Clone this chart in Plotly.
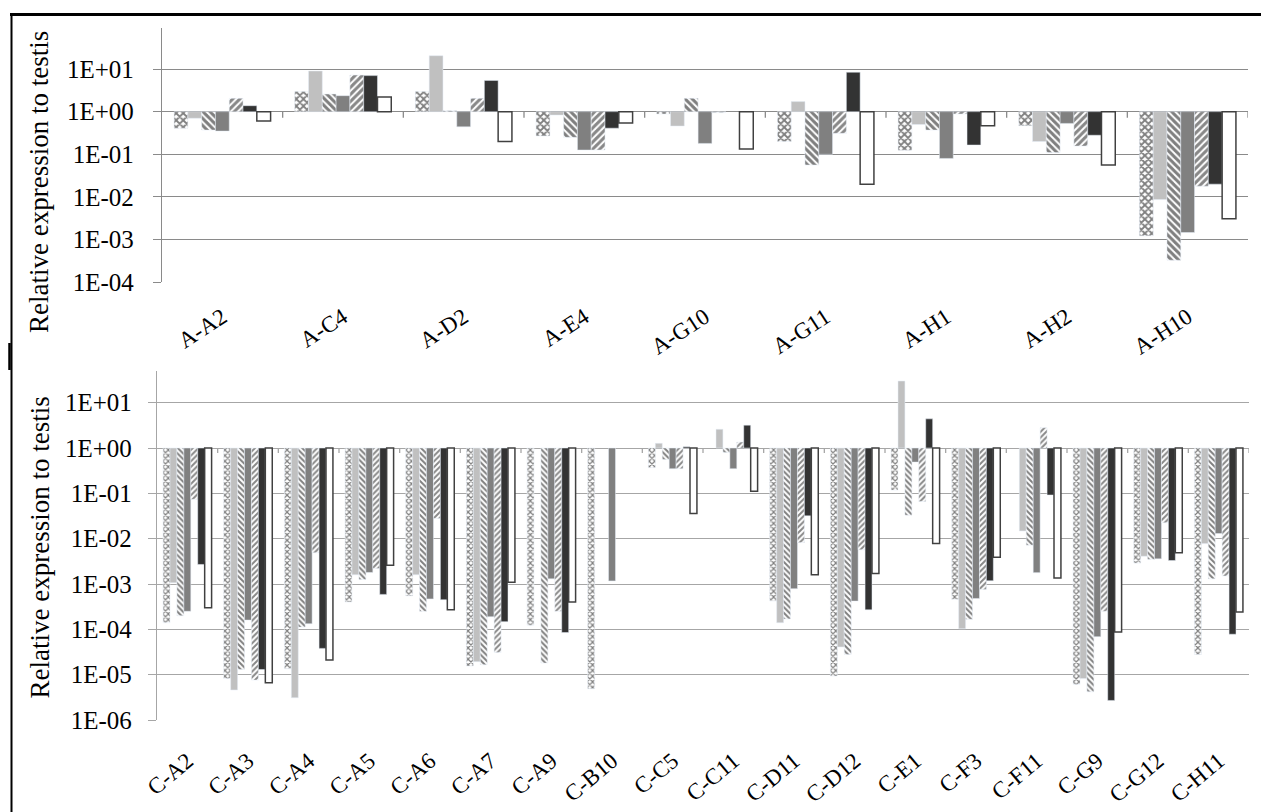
import plotly.graph_objects as go
from plotly.subplots import make_subplots

# categories
top_groups = ["A-A2", "A-C4", "A-D2", "A-E4", "A-G10", "A-G11", "A-H1", "A-H2", "A-H10"]
bottom_groups = ["C-A2", "C-A3", "C-A4", "C-A5", "C-A6", "C-A7", "C-A9", "C-B10", "C-C5",
                 "C-C11", "C-D11", "C-D12", "C-E1", "C-F3", "C-F11", "C-G9", "C-G12", "C-H11"]

# relative expression to testis, one list per series
top_s1 = [0.41, 2.95, 2.95, 0.27, 0.88, 0.20, 0.125, 0.47, 0.00123]
top_s2 = [0.70, 8.97, 20.5, 0.83, 0.46, 1.72, 0.50, 0.20, 0.0087]
top_s3 = [0.37, 2.59, 1.05, 0.25, 2.05, 0.056, 0.37, 0.11, 0.00033]
top_s4 = [0.35, 2.37, 0.44, 0.126, 0.18, 0.10, 0.080, 0.53, 0.00147]
top_s5 = [2.05, 7.2, 2.05, 0.126, 0.95, 0.31, 0.88, 0.156, 0.0179]
top_s6 = [1.38, 7.0, 5.4, 0.41, None, 8.4, 0.165, 0.28, 0.020]
top_s7 = [0.60, 2.2, 0.20, 0.54, 0.133, 0.020, 0.47, 0.056, 0.0031]

bot_s1 = [1.4e-4, 8.2e-6, 1.35e-5, 4.0e-4, 5.5e-4, 1.55e-5, 1.23e-4, 4.9e-6, 0.37,
          None, 4.2e-4, 9.3e-6, 0.118, 4.6e-4, None, 6.1e-6, 2.9e-3, 2.8e-5]
bot_s2 = [1.07e-3, 4.6e-6, 3.1e-6, 1.6e-3, 1.6e-3, 1.94e-5, None, None, 1.27,
          2.6, 1.4e-4, 4.1e-5, 30, 1.03e-4, 0.0148, 8.2e-6, 4.1e-3, 7.8e-3]
bot_s3 = [2.0e-4, 1.3e-5, 1.12e-4, 1.26e-3, 2.5e-4, 1.66e-5, 1.8e-5, None, 0.56,
          0.8, 1.7e-4, 2.8e-5, 0.033, 1.66e-4, 7.2e-3, 4.2e-6, 3.5e-3, 1.3e-3]
bot_s4 = [2.5e-4, 1.6e-4, 1.33e-4, 1.8e-3, 4.7e-4, 1.9e-4, 1.3e-3, 1.17e-3, 0.35,
          0.35, 7.9e-4, 4.2e-4, 0.49, 4.8e-4, 1.78e-3, 6.9e-5, 3.6e-3, 0.013]
bot_s5 = [0.074, 7.6e-6, 4.9e-3, 2.2e-3, 0.028, 3.1e-5, 2.5e-4, None, 0.35,
          1.35, 8.2e-3, 5.7e-3, 0.066, 7.6e-4, 2.8, 2.5e-4, 0.0225, 1.5e-3]
bot_s6 = [2.7e-3, 1.3e-5, 3.8e-5, 5.9e-4, 4.5e-4, 1.48e-4, 8.5e-5, None, 1.07,
          3.2, 0.032, 2.7e-4, 4.4, 1.18e-3, 0.092, 2.7e-6, 3.3e-3, 7.8e-5]
bot_s7 = [3.0e-4, 6.6e-6, 2.1e-5, 2.6e-3, 2.7e-4, 1.1e-3, 4.0e-4, None, 0.036,
          0.112, 1.6e-3, 1.7e-3, 7.8e-3, 3.9e-3, 1.35e-3, 8.7e-5, 4.9e-3, 2.4e-4]

top_exps = [-4, -3, -2, -1, 0, 1]
bot_exps = [-6, -5, -4, -3, -2, -1, 0, 1]

# the page body keeps its default 8px margin, so the figure is drawn 8px in from the corner
OFF = 8
W, H = 1269 - OFF, 812 - OFF
FONT = "Liberation Serif, Times New Roman, serif"
GRID = "#8a8a8a"
GRID2 = "#a6a6a6"


def bar_styles(size, solid):
    # same order in both panels: checker, light grey, back hatch, mid grey, fwd hatch, dark, open
    return [
        dict(color="white", pattern=dict(shape="x", fgcolor="#000", bgcolor="white", size=size, solidity=solid)),
        dict(color="#c0c0c0"),
        dict(color="white", pattern=dict(shape="\\", fgcolor="#000", bgcolor="white", size=size, solidity=solid)),
        dict(color="#808080"),
        dict(color="white", pattern=dict(shape="/", fgcolor="#111", bgcolor="white", size=size, solidity=solid)),
        dict(color="#333333"),
        dict(color="white", line=dict(color="#404040", width=1.5)),
    ]


def px_x(p):
    # screen pixel of the reference -> paper fraction
    return (p - OFF) / W


def px_y(p):
    return 1 - (p - OFF) / H


def etxt(e):
    return "1E%s%02d" % ("+" if e >= 0 else "-", abs(e))


fig = make_subplots(rows=2, cols=1)

panels = [
    (1, top_groups, [top_s1, top_s2, top_s3, top_s4, top_s5, top_s6, top_s7], bar_styles(5, 0.6)),
    (2, bottom_groups, [bot_s1, bot_s2, bot_s3, bot_s4, bot_s5, bot_s6, bot_s7], bar_styles(4, 0.5)),
]
for row, groups, series, styles in panels:
    for i, vals in enumerate(series):
        # bars hang from 1E+00, so length is value - 1 from a base of 1
        ys = [None if v is None else v - 1 for v in vals]
        fig.add_trace(go.Bar(x=groups, y=ys, base=1, name="Series %d" % (i + 1),
                             marker=styles[i], showlegend=False,
                             customdata=vals, hovertemplate="%{x}: %{customdata}<extra></extra>"),
                      row=row, col=1)

fig.update_layout(
    width=W, height=H,
    margin=dict(l=0, r=0, t=0, b=0),
    paper_bgcolor="white", plot_bgcolor="white",
    barmode="group", bargap=0.2, bargroupgap=0,
    font=dict(family=FONT, color="black"),
)

# top panel
fig.update_xaxes(row=1, col=1, domain=[px_x(162), px_x(1248)], range=[-0.5, len(top_groups) - 0.5],
                 automargin=False, showline=False, ticks="", tickangle=-33,
                 ticklabelstandoff=16, tickfont=dict(size=23, family=FONT))
fig.update_yaxes(row=1, col=1, domain=[px_y(282.3), px_y(28.3)], type="log", range=[-4, 1.954],
                 automargin=False,
                 tickvals=[10.0 ** e for e in top_exps], ticktext=[etxt(e) for e in top_exps],
                 showgrid=True, gridcolor=GRID, gridwidth=1.4,
                 showline=True, linecolor=GRID, linewidth=1.4,
                 ticks="outside", ticklen=8, tickcolor=GRID, tickwidth=1.4,
                 ticklabelstandoff=14, tickfont=dict(size=25, family=FONT))

# bottom panel
fig.update_xaxes(row=2, col=1, domain=[px_x(157), px_x(1249)], range=[-0.5, len(bottom_groups) - 0.5],
                 automargin=False, showline=False, ticks="", tickangle=-40,
                 ticklabelstandoff=22, tickfont=dict(size=23, family=FONT))
fig.update_yaxes(row=2, col=1, domain=[px_y(720), px_y(370.7)], type="log", range=[-6, 1.706],
                 automargin=False,
                 tickvals=[10.0 ** e for e in bot_exps], ticktext=[etxt(e) for e in bot_exps],
                 showgrid=True, gridcolor=GRID2, gridwidth=1.3,
                 showline=True, linecolor=GRID2, linewidth=1.3,
                 ticks="outside", ticklen=8, tickcolor=GRID2, tickwidth=1.3,
                 ticklabelstandoff=11, tickfont=dict(size=25, family=FONT))

shapes = []
# small tick marks under the 1E+00 baseline between categories
for xref, yref, groups, low, col in [("x", "y", top_groups, 0.72, GRID), ("x2", "y2", bottom_groups, 0.78, GRID2)]:
    for k in range(len(groups)):
        shapes.append(dict(type="line", xref=xref, yref=yref, x0=k + 0.5, x1=k + 0.5, y0=1, y1=low,
                           line=dict(color=col, width=1.3)))

# frame lines of the picture
shapes.append(dict(type="line", xref="paper", yref="paper", x0=px_x(10), x1=1, y0=px_y(14.5), y1=px_y(14.5),
                   line=dict(color="black", width=3)))
shapes.append(dict(type="line", xref="paper", yref="paper", x0=px_x(11.5), x1=px_x(11.5), y0=0, y1=px_y(13),
                   line=dict(color="black", width=2)))
shapes.append(dict(type="line", xref="paper", yref="paper", x0=px_x(9.5), x1=px_x(9.5), y0=px_y(370), y1=px_y(343),
                   line=dict(color="black", width=2.5)))
fig.update_layout(shapes=shapes)

# axis titles placed like the original
for ycen in [182, 547.5]:
    fig.add_annotation(text="Relative expression to testis", xref="paper", yref="paper",
                       x=px_x(39), y=px_y(ycen), xanchor="center", yanchor="middle",
                       textangle=-90, showarrow=False, font=dict(size=27, family=FONT, color="black"))

fig.write_html("out.html")
